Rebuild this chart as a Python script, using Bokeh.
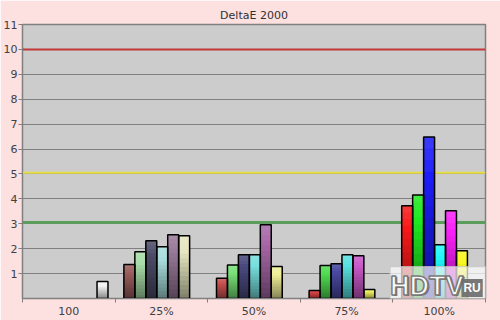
from bokeh.plotting import figure
from bokeh.models import FixedTicker, Span, Label, ColumnDataSource
from bokeh.embed import file_html
from bokeh.resources import INLINE

# ---------------- data ----------------
categories = ["100", "25%", "50%", "75%", "100%"]
series_names = ["Red", "Green", "Blue", "Cyan", "Magenta", "Yellow", "White"]
red     = [None, 1.36, 0.81, 0.32, 3.72]
green   = [None, 1.88, 1.34, 1.32, 4.16]
blue    = [None, 2.32, 1.76, 1.40, 6.48]
cyan    = [None, 2.08, 1.76, 1.76, 2.16]
magenta = [None, 2.56, 2.96, 1.72, 3.52]
yellow  = [None, 2.52, 1.28, 0.36, 1.92]
white   = [0.68, None, None, None, None]
y_ticks = [1, 2, 3, 4, 5, 6, 7, 8, 9, 10, 11]
ref_levels = [10.0, 5.05, 3.05]
title_text = "DeltaE 2000"

# ---------------- styles ----------------
bar_colors = {
    "Red":     ["#f2f2f2", "#9a5c5c", "#c85050", "#d84242", "#f81818"],
    "Green":   ["#f2f2f2", "#a8dca8", "#78e078", "#50dc50", "#20e820"],
    "Blue":    ["#f2f2f2", "#4c4c68", "#4a4a80", "#4848a0", "#1c1cf8"],
    "Cyan":    ["#f2f2f2", "#a8dcdc", "#78dede", "#58e0e0", "#20f8f8"],
    "Magenta": ["#f2f2f2", "#9a7a9a", "#a868a8", "#c858c8", "#f820f8"],
    "Yellow":  ["#f2f2f2", "#e6e6c0", "#eeee98", "#f0f060", "#f8f820"],
    "White":   ["#f4f4f4", "#f4f4f4", "#f4f4f4", "#f4f4f4", "#f4f4f4"],
}
ref_colors = ["#c03838", "#e8e040", "#5c9c5c"]
ref_widths = [2, 2, 3]
BG = "#fde0e0"
PLOT_BG = "#cccccc"
FONT = "DejaVu Sans"
TEXT = "#404040"

series_values = [red, green, blue, cyan, magenta, yellow, white]

SLOT = 0.1183
START = 0.095
N_SLICES = 14


def hex2rgb(h):
    h = h.lstrip("#")
    return [int(h[i:i + 2], 16) for i in (0, 2, 4)]


def shade(h, f):
    r, g, b = hex2rgb(h)
    if f <= 1:
        r, g, b = r * f, g * f, b * f
    else:
        k = f - 1
        r, g, b = r + (255 - r) * k, g + (255 - g) * k, b + (255 - b) * k
    return "#%02x%02x%02x" % tuple(max(0, min(255, int(round(v)))) for v in (r, g, b))


# gradient: nested rects drawn tallest first so no seams show
slices = dict(x=[], top=[], color=[])
outlines = dict(x=[], top=[])
for k in reversed(range(N_SLICES)):
    t = (k + 0.5) / N_SLICES
    f = 0.55 + 0.6 * t
    for j, (name, vals) in enumerate(zip(series_names, series_values)):
        for i, v in enumerate(vals):
            if v is None:
                continue
            xc = i + START + (j + 0.5) * SLOT
            slices["x"].append(xc)
            slices["top"].append(v * (k + 1) / N_SLICES)
            slices["color"].append(shade(bar_colors[name][i], f))
for j, (name, vals) in enumerate(zip(series_names, series_values)):
    for i, v in enumerate(vals):
        if v is None:
            continue
        outlines["x"].append(i + START + (j + 0.5) * SLOT)
        outlines["top"].append(v)

p = figure(width=500, height=320, x_range=(0, 5), y_range=(0, 11),
           output_backend="svg", toolbar_location=None,
           min_border_left=20, min_border_right=15, min_border_top=24, min_border_bottom=0)
p.background_fill_color = PLOT_BG
p.border_fill_color = BG
p.outline_line_color = "#808080"
p.outline_line_width = 1.5

p.title.text = title_text
p.title.align = "center"
p.title.text_font = FONT
p.title.text_font_size = "11px"
p.title.text_font_style = "normal"
p.title.text_color = "#303030"
p.title.standoff = 5

# grid
p.xgrid.visible = False
p.ygrid.ticker = FixedTicker(ticks=y_ticks)
p.ygrid.grid_line_color = "#808080"
p.ygrid.grid_line_width = 1.2

# y axis
p.yaxis.ticker = FixedTicker(ticks=y_ticks)
p.yaxis.axis_line_color = "#808080"
p.yaxis.major_tick_line_color = "#808080"
p.yaxis.major_tick_in = 0
p.yaxis.major_tick_out = 4
p.yaxis.minor_tick_line_color = None
p.yaxis.major_label_standoff = 1
p.yaxis.major_label_text_font = FONT
p.yaxis.major_label_text_font_size = "11px"
p.yaxis.major_label_text_color = TEXT

# x axis: labels at centres, tick marks at boundaries
centers = [i + 0.5 for i in range(len(categories))]
p.xaxis.ticker = FixedTicker(ticks=centers, minor_ticks=list(range(len(categories) + 1)))
p.xaxis.major_label_overrides = {c: lab for c, lab in zip(centers, categories)}
p.xaxis.major_tick_line_color = None
p.xaxis.major_tick_in = 0
p.xaxis.major_tick_out = 0
p.xaxis.minor_tick_line_color = "#808080"
p.xaxis.minor_tick_in = 0
p.xaxis.minor_tick_out = 4
p.xaxis.axis_line_color = "#808080"
p.xaxis.major_label_standoff = 2
p.xaxis.major_label_text_font = FONT
p.xaxis.major_label_text_font_size = "11px"
p.xaxis.major_label_text_color = TEXT

# reference lines (behind bars)
for lvl, col, w in zip(ref_levels, ref_colors, ref_widths):
    p.add_layout(Span(location=lvl, dimension="width", line_color=col, line_width=w, level="underlay"))

src = ColumnDataSource(slices)
p.vbar(x="x", bottom=0, top="top", width=SLOT, fill_color="color", line_color=None, source=src)
osrc = ColumnDataSource(outlines)
p.vbar(x="x", bottom=0, top="top", width=SLOT, fill_alpha=0, line_color="black", line_width=1.5, source=osrc)

# watermark
WM = "Liberation Sans"
WY = -0.09
p.add_layout(Label(x=3.97, y=WY, text="HDTV      ", text_font=WM, text_font_style="bold",
                   text_font_size="27px", text_color="white", text_alpha=0.01,
                   text_baseline="bottom",
                   background_fill_color="white", background_fill_alpha=0.7,
                   border_line_color="#c8c8c8", padding=2))
p.add_layout(Label(x=3.97, y=WY, x_offset=1.5, y_offset=-1.5, text="HDTV", text_font=WM,
                   text_font_style="bold", text_font_size="27px", text_color="#707070",
                   text_baseline="bottom"))
p.add_layout(Label(x=3.97, y=WY, text="HDTV", text_font=WM, text_font_style="bold",
                   text_font_size="27px", text_color="#fafafa", text_baseline="bottom",
                   text_outline_color="#7a7a7a"))
p.add_layout(Label(x=4.74, y=0.42, text="RU", text_font=WM, text_font_style="bold",
                   text_font_size="12px", text_color="white", text_baseline="middle",
                   background_fill_color="#6a6a6a", background_fill_alpha=0.9, padding=2))

open("out.html", "w").write(file_html(p, INLINE))
